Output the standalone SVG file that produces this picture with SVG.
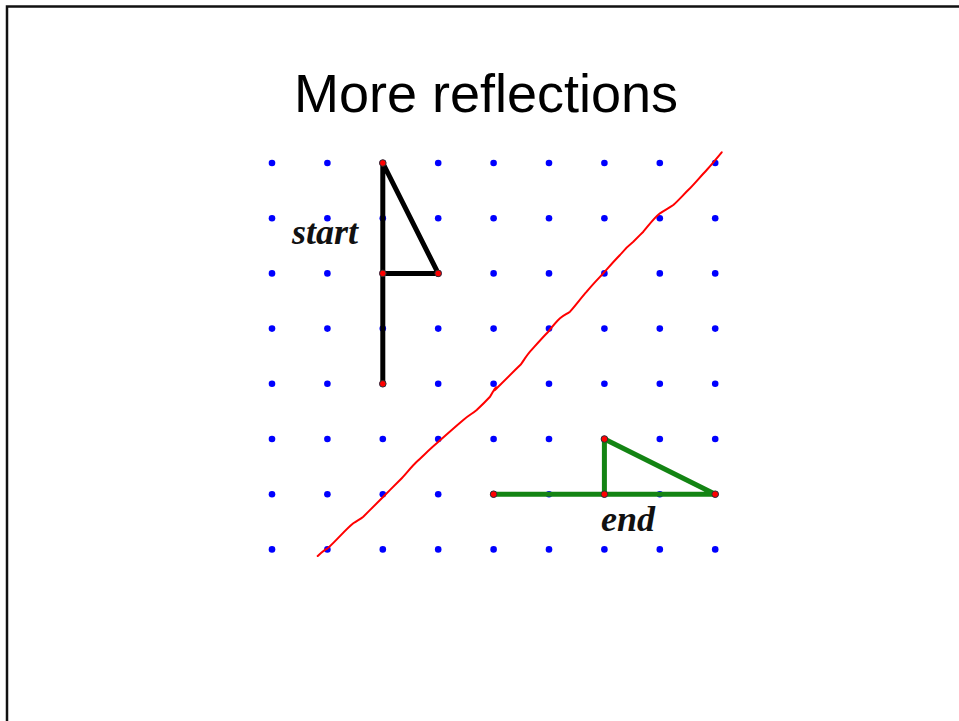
<svg xmlns="http://www.w3.org/2000/svg" width="959" height="721" viewBox="0 0 959 721">
<style>
.grid circle{fill:#0000ff}
.pt{fill:#ff0000;stroke:#333;stroke-width:1}
.blk{stroke:#000;stroke-width:5;fill:none;stroke-linejoin:round}
.grn{stroke:#138413;stroke-width:5;fill:none;stroke-linejoin:round}
.lbl{font-family:"Liberation Serif","DejaVu Serif",serif;font-style:italic;font-weight:bold;font-size:36px;fill:#111}
</style>
<rect width="959" height="721" fill="#fff"/>
<path d="M7,721 V6.5 H959" fill="none" stroke="#111" stroke-width="2.5"/>
<text x="486" y="112" text-anchor="middle" font-family="Liberation Sans, Arial, sans-serif" font-size="54" fill="#000">More reflections</text>
<g id="grid" class="grid">
<g id="r1"><circle cx="272" cy="163" r="3.3"/><circle cx="327.4" cy="163" r="3.3"/><circle cx="382.8" cy="163" r="3.3"/><circle cx="438.2" cy="163" r="3.3"/><circle cx="493.6" cy="163" r="3.3"/><circle cx="549" cy="163" r="3.3"/><circle cx="604.4" cy="163" r="3.3"/><circle cx="659.8" cy="163" r="3.3"/><circle cx="715.2" cy="163" r="3.3"/></g>
<g id="r2"><circle cx="272" cy="218.2" r="3.3"/><circle cx="327.4" cy="218.2" r="3.3"/><circle cx="382.8" cy="218.2" r="3.3"/><circle cx="438.2" cy="218.2" r="3.3"/><circle cx="493.6" cy="218.2" r="3.3"/><circle cx="549" cy="218.2" r="3.3"/><circle cx="604.4" cy="218.2" r="3.3"/><circle cx="659.8" cy="218.2" r="3.3"/><circle cx="715.2" cy="218.2" r="3.3"/></g>
<g id="r3"><circle cx="272" cy="273.4" r="3.3"/><circle cx="327.4" cy="273.4" r="3.3"/><circle cx="382.8" cy="273.4" r="3.3"/><circle cx="438.2" cy="273.4" r="3.3"/><circle cx="493.6" cy="273.4" r="3.3"/><circle cx="549" cy="273.4" r="3.3"/><circle cx="604.4" cy="273.4" r="3.3"/><circle cx="659.8" cy="273.4" r="3.3"/><circle cx="715.2" cy="273.4" r="3.3"/></g>
<g id="r4"><circle cx="272" cy="328.6" r="3.3"/><circle cx="327.4" cy="328.6" r="3.3"/><circle cx="382.8" cy="328.6" r="3.3"/><circle cx="438.2" cy="328.6" r="3.3"/><circle cx="493.6" cy="328.6" r="3.3"/><circle cx="549" cy="328.6" r="3.3"/><circle cx="604.4" cy="328.6" r="3.3"/><circle cx="659.8" cy="328.6" r="3.3"/><circle cx="715.2" cy="328.6" r="3.3"/></g>
<g id="r5"><circle cx="272" cy="383.8" r="3.3"/><circle cx="327.4" cy="383.8" r="3.3"/><circle cx="382.8" cy="383.8" r="3.3"/><circle cx="438.2" cy="383.8" r="3.3"/><circle cx="493.6" cy="383.8" r="3.3"/><circle cx="549" cy="383.8" r="3.3"/><circle cx="604.4" cy="383.8" r="3.3"/><circle cx="659.8" cy="383.8" r="3.3"/><circle cx="715.2" cy="383.8" r="3.3"/></g>
<g id="r6"><circle cx="272" cy="439" r="3.3"/><circle cx="327.4" cy="439" r="3.3"/><circle cx="382.8" cy="439" r="3.3"/><circle cx="438.2" cy="439" r="3.3"/><circle cx="493.6" cy="439" r="3.3"/><circle cx="549" cy="439" r="3.3"/><circle cx="604.4" cy="439" r="3.3"/><circle cx="659.8" cy="439" r="3.3"/><circle cx="715.2" cy="439" r="3.3"/></g>
<g id="r7"><circle cx="272" cy="494.2" r="3.3"/><circle cx="327.4" cy="494.2" r="3.3"/><circle cx="382.8" cy="494.2" r="3.3"/><circle cx="438.2" cy="494.2" r="3.3"/><circle cx="493.6" cy="494.2" r="3.3"/><circle cx="549" cy="494.2" r="3.3"/><circle cx="604.4" cy="494.2" r="3.3"/><circle cx="659.8" cy="494.2" r="3.3"/><circle cx="715.2" cy="494.2" r="3.3"/></g>
<g id="r8"><circle cx="272" cy="549.4" r="3.3"/><circle cx="327.4" cy="549.4" r="3.3"/><circle cx="382.8" cy="549.4" r="3.3"/><circle cx="438.2" cy="549.4" r="3.3"/><circle cx="493.6" cy="549.4" r="3.3"/><circle cx="549" cy="549.4" r="3.3"/><circle cx="604.4" cy="549.4" r="3.3"/><circle cx="659.8" cy="549.4" r="3.3"/><circle cx="715.2" cy="549.4" r="3.3"/></g>
</g>
<path id="mirror" d="M317.7,556 C322,552 324,550 327.7,548.3 C336,541 346,529 353.3,523.3 C358,520 360,519.5 363.3,516.7 C370,510 377,503 383.3,496.7 C389,491 394,486 400,480 C406,474 411,467 416.7,461.7 C423,456 430,449 436.7,443.3 C446,435 455,427 463.3,420 C469,415 472,414 476.7,410 C482,405 486,401 490,396.7 C492,393 494,390 496.7,386.7 C493,390 493,392 496,389 C504,381 512,373 521,364.3 C524,360 527,355 530,351.7 C536,345 542,338 548.3,331.7 C552,327 556,322 560,318.3 C564,315 567,314 570,311.7 C576,305 581,298 586.7,291.7 C592,285 598,279 603.3,273.3 C609,267 614,261 620,255 C624,250 629,245 633.3,241.7 C637,238 640,235 643.3,231.7 C649,225 654,218 660,213.3 C665,210 669,208 673.3,205 C679,200 684,194 690,188.3 C696,182 701,176 706.7,170 C712,164 717,158 721.7,152.3" fill="none" stroke="#ff0000" stroke-width="2" stroke-linecap="round"/>
<g id="start-figure">
<path class="blk" d="M382.8,163 V383.8 M382.8,163 L438.2,273.4 H382.8"/>
<circle class="pt" cx="382.8" cy="163" r="3.3"/>
<circle class="pt" cx="382.8" cy="273.4" r="3.3"/>
<circle class="pt" cx="438.2" cy="273.4" r="3.3"/>
<circle class="pt" cx="382.8" cy="383.8" r="3.3"/>
</g>
<g id="end-figure">
<path class="grn" d="M493.6,494.2 H715.2 L604.4,439 V494.2"/>
<circle class="pt" cx="493.6" cy="494.2" r="3.3"/>
<circle class="pt" cx="604.4" cy="494.2" r="3.3"/>
<circle class="pt" cx="604.4" cy="439" r="3.3"/>
<circle class="pt" cx="715.2" cy="494.2" r="3.3"/>
</g>
<text class="lbl" x="292" y="244">start</text>
<text class="lbl" x="601" y="531">end</text>
</svg>
